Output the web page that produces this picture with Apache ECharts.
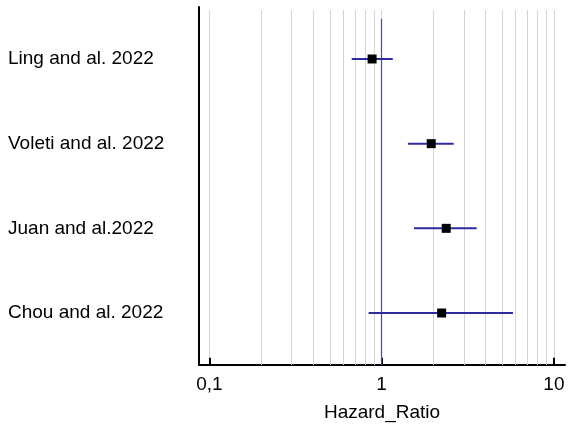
<!DOCTYPE html>
<html>
<head>
<meta charset="utf-8">
<script src="https://cdn.jsdelivr.net/npm/echarts@6/dist/echarts.min.js"></script>
<style>
  html, body { margin: 0; padding: 0; background: #fff; }
  #chart { width: 582px; height: 433px; }
</style>
</head>
<body>
<div id="chart"></div>
<script>
// studies, top to bottom
const studies = ['Ling and al. 2022', 'Voleti and al. 2022', 'Juan and al.2022', 'Chou and al. 2022']
const hazardRatio = [0.88, 1.94, 2.37, 2.23]
const ciLow = [0.67, 1.42, 1.54, 0.84]
const ciHigh = [1.16, 2.62, 3.56, 5.79]
// vertical grid lines on the log axis
const gridTicks = [0.1, 0.2, 0.3, 0.4, 0.5, 0.6, 0.7, 0.8, 0.9, 1, 2, 3, 4, 5, 6, 7, 8, 9, 10]
const majorTicks = [0.1, 1, 10]
const refValue = 1

const yMin = 0.386
const yMax = 4.614

const chart = echarts.init(document.getElementById('chart'))
const font = '"Liberation Sans", Arial, sans-serif'

const rows = studies.map((s, i) => i + 1)

const gridLines = gridTicks.map(v => [{ coord: [v, yMin + 0.035] }, { coord: [v, yMax] }])
const tickLines = majorTicks.map(v => [{ coord: [v, yMax] }, { coord: [v, yMax - 0.085] }])

const option = {
  animation: false,
  backgroundColor: '#fff',
  grid: { left: 199, right: 17, top: 7, bottom: 68 },
  xAxis: {
    type: 'log',
    logBase: 10,
    min: 0.087,
    max: 11.6,
    name: 'Hazard_Ratio',
    nameLocation: 'middle',
    nameGap: 38,
    nameTextStyle: { color: '#000', fontSize: 19, fontFamily: font },
    axisLine: { show: true, lineStyle: { color: '#000', width: 2 } },
    axisTick: { show: false },
    splitLine: { show: false },
    axisLabel: {
      color: '#000',
      fontSize: 19,
      fontFamily: font,
      margin: 10,
      showMinLabel: false,
      showMaxLabel: false,
      formatter: v => String(v).replace('.', ',')
    }
  },
  yAxis: {
    type: 'value',
    inverse: true,
    min: yMin,
    max: yMax,
    axisLine: { show: true, lineStyle: { color: '#000', width: 2 } },
    axisTick: { show: false },
    splitLine: { show: false },
    axisLabel: {
      color: '#000',
      fontSize: 19,
      fontFamily: font,
      align: 'left',
      margin: 191,
      showMinLabel: false,
      showMaxLabel: false,
      formatter: v => {
        const i = Math.round(v)
        return Math.abs(v - i) < 1e-6 && studies[i - 1] ? studies[i - 1] : ''
      }
    }
  },
  series: [
    {
      // grid lines
      type: 'scatter',
      data: [],
      silent: true,
      markLine: {
        z: 1,
        silent: true,
        symbol: ['none', 'none'],
        label: { show: false },
        lineStyle: { color: '#d4d4d4', width: 1, type: 'solid' },
        data: gridLines
      }
    },
    {
      // major ticks, pointing up from the axis
      type: 'scatter',
      data: [],
      silent: true,
      markLine: {
        z: 2,
        silent: true,
        symbol: ['none', 'none'],
        label: { show: false },
        lineStyle: { color: '#000', width: 2, type: 'solid' },
        data: tickLines
      }
    },
    {
      // line of no effect
      type: 'scatter',
      data: [],
      silent: true,
      markLine: {
        z: 3,
        silent: true,
        symbol: ['none', 'none'],
        label: { show: false },
        lineStyle: { color: '#4646c8', width: 1.2, type: 'solid' },
        data: [[{ coord: [refValue, yMin + 0.14] }, { coord: [refValue, yMax] }]]
      }
    },
    {
      // confidence intervals
      type: 'custom',
      z: 10,
      encode: { x: [0, 1], y: 2 },
      data: rows.map((r, i) => [ciLow[i], ciHigh[i], r]),
      renderItem: (params, api) => {
        const a = api.coord([api.value(0), api.value(2)])
        const b = api.coord([api.value(1), api.value(2)])
        return {
          type: 'line',
          shape: { x1: a[0], y1: a[1], x2: b[0], y2: b[1] },
          style: { stroke: '#2c2ca0', lineWidth: 2 }
        }
      }
    },
    {
      // hazard ratios
      type: 'scatter',
      z: 11,
      symbol: 'rect',
      symbolSize: 9,
      itemStyle: { color: '#000', opacity: 1 },
      data: rows.map((r, i) => [hazardRatio[i], r])
    }
  ]
}
chart.setOption(option)
</script>
</body>
</html>
